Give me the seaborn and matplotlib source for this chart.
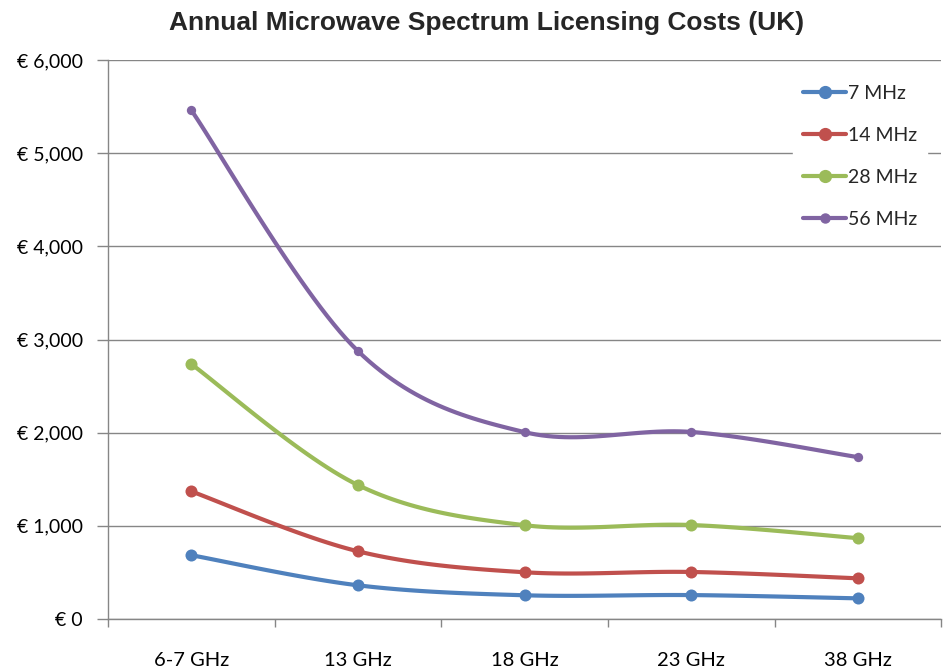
import numpy as np
import pandas as pd
import matplotlib
matplotlib.use("Agg")
import matplotlib.pyplot as plt
import seaborn as sns
from matplotlib.ticker import FuncFormatter, FixedLocator

bands = ["6-7 GHz", "13 GHz", "18 GHz", "23 GHz", "38 GHz"]
cost_7mhz = [685, 362, 255, 257, 222]
cost_14mhz = [1370, 727, 502, 505, 437]
cost_28mhz = [2736, 1438, 1007, 1009, 868]
cost_56mhz = [5461, 2876, 2006, 2008, 1738]
series_names = ["7 MHz", "14 MHz", "28 MHz", "56 MHz"]
colors = ["#4F81BD", "#C0504D", "#9BBB59", "#8064A2"]

sns.set_theme(style="white")
plt.rcParams["font.family"] = ["Lato", "DejaVu Sans"]

df = pd.DataFrame({"band": bands * 4,
                   "cost": cost_7mhz + cost_14mhz + cost_28mhz + cost_56mhz,
                   "series": sum([[s] * len(bands) for s in series_names], [])})
df["x"] = df["band"].map({b: i for i, b in enumerate(bands)})


def smooth(xs, ys, n=30):
    # bezier smoothing like the spreadsheet "smoothed line" option
    xs = np.asarray(xs, float)
    ys = np.asarray(ys, float)
    px, py = [], []
    for i in range(len(xs) - 1):
        x0, y0 = xs[max(i - 1, 0)], ys[max(i - 1, 0)]
        x1, y1 = xs[i], ys[i]
        x2, y2 = xs[i + 1], ys[i + 1]
        x3, y3 = xs[min(i + 2, len(xs) - 1)], ys[min(i + 2, len(xs) - 1)]
        c1x, c1y = x1 + (x2 - x0) / 6, y1 + (y2 - y0) / 6
        c2x, c2y = x2 - (x3 - x1) / 6, y2 - (y3 - y1) / 6
        t = np.linspace(0, 1, n)
        px.append((1-t)**3*x1 + 3*(1-t)**2*t*c1x + 3*(1-t)*t**2*c2x + t**3*x2)
        py.append((1-t)**3*y1 + 3*(1-t)**2*t*c1y + 3*(1-t)*t**2*c2y + t**3*y2)
    return np.concatenate(px), np.concatenate(py)


fig = plt.figure(figsize=(9.44, 6.69), dpi=100)
ax = fig.add_axes([0.1144, 0.0747, 0.8826, 0.8356])

for name, col in zip(series_names, colors):
    sub = df[df["series"] == name]
    sx, sy = smooth(sub["x"], sub["cost"])
    ax.plot(sx, sy, color=col, lw=3, solid_capstyle="round", zorder=3)
    ms = 75 if name != "56 MHz" else 45
    sns.scatterplot(x=sub["x"], y=sub["cost"], color=col, s=ms, edgecolor=col,
                    linewidth=0, ax=ax, zorder=4, legend=False)
    ax.plot([], [], color=col, lw=3, marker="o",
            markersize=8.5 if name != "56 MHz" else 6.5, label=name)

ax.set_xlim(-0.5, len(bands) - 0.5)
ax.set_ylim(0, 6000)
ax.set_yticks(np.arange(0, 6001, 1000))
ax.yaxis.set_major_formatter(FuncFormatter(lambda v, p: "€ {:,.0f}".format(v)))
ax.set_xticks(range(len(bands)))
ax.set_xticklabels(bands)
ax.xaxis.set_minor_locator(FixedLocator(np.arange(-0.5, len(bands), 1.0)))
ax.tick_params(axis="x", which="major", length=0, labelsize=14.5, pad=24, colors="black")
ax.tick_params(axis="x", which="minor", length=6, width=1, color="#868686", bottom=True)
ax.tick_params(axis="y", length=8, width=1, color="#868686", labelsize=14, pad=10,
               left=True, labelcolor="black")
ax.set_xlabel("")
ax.set_ylabel("")
ax.grid(axis="y", color="#868686", lw=1)
ax.grid(axis="x", visible=False)
ax.set_axisbelow(True)
for s in ["top", "right"]:
    ax.spines[s].set_visible(False)
for s in ["left", "bottom"]:
    ax.spines[s].set_color("#868686")
    ax.spines[s].set_linewidth(1)

leg = ax.legend(loc="upper left", bbox_to_anchor=(0.811, 0.99), frameon=True,
                fontsize=14, handlelength=2.2, labelspacing=1.28,
                handletextpad=0.1, borderpad=0.5)
leg.get_frame().set_facecolor("white")
leg.get_frame().set_edgecolor("white")
leg.get_frame().set_alpha(1)

fig.suptitle("Annual Microwave Spectrum Licensing Costs (UK)", x=0.515, y=0.983,
             fontsize=19, fontweight="bold", family=["Liberation Sans", "DejaVu Sans"])

fig.savefig("out.png", dpi=100)
